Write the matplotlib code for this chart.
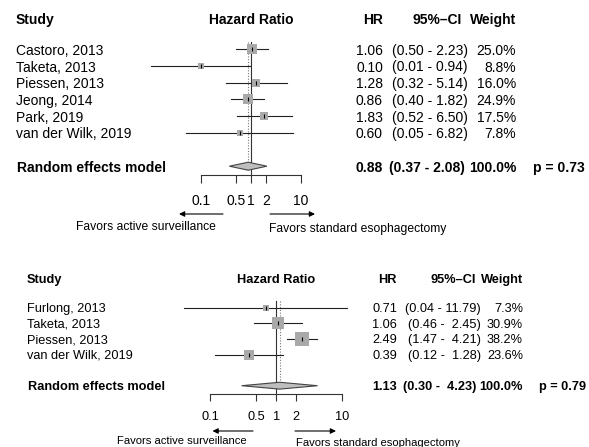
import matplotlib
matplotlib.use("Agg")
import matplotlib.pyplot as plt
import matplotlib.transforms as mtransforms
from matplotlib.patches import Polygon
from matplotlib.ticker import NullLocator

plt.rcParams["font.family"] = ["Liberation Sans", "DejaVu Sans"]

W, H = 589, 447

# meta-analysis 1
studies_1 = ["Castoro, 2013", "Taketa, 2013", "Piessen, 2013", "Jeong, 2014",
             "Park, 2019", "van der Wilk, 2019"]
hr_1 = [1.06, 0.10, 1.28, 0.86, 1.83, 0.60]
lo_1 = [0.50, 0.01, 0.32, 0.40, 0.52, 0.05]
hi_1 = [2.23, 0.94, 5.14, 1.82, 6.50, 6.82]
weight_1 = [25.0, 8.8, 16.0, 24.9, 17.5, 7.8]
pooled_1 = (0.88, 0.37, 2.08)
pval_1 = 0.73

# meta-analysis 2
studies_2 = ["Furlong, 2013", "Taketa, 2013", "Piessen, 2013", "van der Wilk, 2019"]
hr_2 = [0.71, 1.06, 2.49, 0.39]
lo_2 = [0.04, 0.46, 1.47, 0.12]
hi_2 = [11.79, 2.45, 4.21, 1.28]
weight_2 = [7.3, 30.9, 38.2, 23.6]
pooled_2 = (1.13, 0.30, 4.23)
pval_2 = 0.79

ticks = [0.1, 0.5, 1, 2, 10]
tick_labels = ["0.1", "0.5", "1", "2", "10"]
label_left = "Favors active surveillance"
label_right = "Favors standard esophagectomy"

fig = plt.figure(figsize=(W / 100, H / 100), dpi=100)


def fx(px):
    return px / W


def fy(py):
    return 1 - py / H


def forest(studies, hr, lo, hi, weight, pooled, pval, lay):
    n = len(studies)
    row0, dy = lay["row0"], lay["dy"]
    top_row, axis_row = -2.5, n + 1.5
    top_px, bot_px = row0 + top_row * dy, row0 + axis_row * dy
    ax = fig.add_axes([fx(lay["x01"]), fy(bot_px),
                       fx(lay["x10"]) - fx(lay["x01"]), (bot_px - top_px) / H])
    ax.set_xscale("log")
    ax.set_xlim(0.1, 10)
    ax.set_ylim(axis_row, top_row)
    ax.patch.set_visible(False)
    for s in ["top", "left", "right"]:
        ax.spines[s].set_visible(False)
    ax.spines["bottom"].set_linewidth(0.8)
    ax.spines["bottom"].set_color("#333333")
    ax.set_yticks([])
    ax.set_xticks(ticks)
    ax.set_xticklabels(tick_labels)
    ax.xaxis.set_minor_locator(NullLocator())
    ax.tick_params(axis="x", direction="out", length=lay["ticklen"], width=0.8,
                   color="#333333", pad=lay["pad"], labelsize=lay["fs"])

    rows = list(range(n))
    est, plo, phi = pooled
    ax.plot([1, 1], [-0.45, axis_row], color="#333333", lw=0.8, zorder=1, clip_on=False)
    ax.plot([est, est], [-0.45, n + 1 - 0.25], color="#777777", lw=0.8,
            ls=(0, (1, 1.5)), zorder=1, clip_on=False)

    for r, h, l, u, w in zip(rows, hr, lo, hi, weight):
        ax.plot([l, u], [r, r], color="#222222", lw=0.8, zorder=2, clip_on=False)
        ax.scatter([h], [r], marker="s", s=lay["sq"] * w, color="#A9A9A9",
                   linewidths=0, zorder=3, clip_on=False)
        ax.scatter([h], [r], marker="|", s=12, color="black", linewidths=0.8,
                   zorder=4, clip_on=False)

    dr = n + 1
    hh = lay["dh"]
    ax.add_patch(Polygon([(plo, dr), (est, dr - hh), (phi, dr), (est, dr + hh)],
                         closed=True, facecolor="#BEBEBE", edgecolor="#444444",
                         lw=0.8, zorder=3, clip_on=False))

    tr = mtransforms.blended_transform_factory(fig.transFigure, ax.transData)
    fs = lay["fs"]
    va = "center_baseline"
    hdr = -1.85
    fig.text(fx(lay["study_x"]), hdr, "Study", transform=tr, fontsize=fs,
             fontweight="bold", va=va, ha="left")
    fig.text(fx(lay["x1"]), hdr, "Hazard Ratio", transform=tr, fontsize=fs,
             fontweight="bold", va=va, ha="center")
    fig.text(fx(lay["hr_x"]), hdr, "HR", transform=tr, fontsize=fs,
             fontweight="bold", va=va, ha="right")
    fig.text(fx(lay["cih_x"]), hdr, "95%\u2013CI", transform=tr, fontsize=fs,
             fontweight="bold", va=va, ha="right")
    fig.text(fx(lay["w_x"]), hdr, "Weight", transform=tr, fontsize=fs,
             fontweight="bold", va=va, ha="right")

    wid = max(len(f"{u:.2f}") for u in hi)
    for r, name, h, l, u, w in zip(rows, studies, hr, lo, hi, weight):
        fig.text(fx(lay["study_x"]), r, name, transform=tr, fontsize=fs,
                 va=va, ha="left")
        fig.text(fx(lay["hr_x"]), r, f"{h:.2f}", transform=tr, fontsize=fs,
                 va=va, ha="right")
        ci = f"({l:.2f} - {f'{u:.2f}'.rjust(wid)})"
        fig.text(fx(lay["ci_x"]), r, ci, transform=tr, fontsize=fs,
                 va=va, ha="right")
        fig.text(fx(lay["w_x"]), r, f"{w:.1f}%", transform=tr, fontsize=fs,
                 va=va, ha="right")

    # pooled estimate row
    fig.text(fx(lay["study_x"] + 1), dr, "Random effects model", transform=tr,
             fontsize=fs, fontweight="bold", va=va, ha="left")
    fig.text(fx(lay["hr_x"]), dr, f"{est:.2f}", transform=tr, fontsize=fs,
             fontweight="bold", va=va, ha="right")
    ci = f"({plo:.2f} - {f'{phi:.2f}'.rjust(wid)})"
    fig.text(fx(lay["sum_ci_x"]), dr, ci, transform=tr, fontsize=fs,
             fontweight="bold", va=va, ha="right")
    fig.text(fx(lay["w_x"]), dr, "100.0%", transform=tr, fontsize=fs,
             fontweight="bold", va=va, ha="right")
    fig.text(fx(lay["p_x"]), dr, f"p = {pval:.2f}", transform=tr, fontsize=fs,
             fontweight="bold", va=va, ha="left")

    # direction arrows and labels under the axis
    ay = lay["arrow_y"]
    arrow = dict(arrowstyle="-|>", color="black", lw=0.8, mutation_scale=8,
                 shrinkA=0, shrinkB=0)
    for x0, x1 in (lay["al"], lay["ar"]):
        ax.annotate("", xy=(fx(x1), fy(ay)), xytext=(fx(x0), fy(ay)),
                    xycoords="figure fraction", textcoords="figure fraction",
                    arrowprops=arrow)
    fig.text(fx(lay["tl_x"]), fy(lay["tl_y"]), label_left, fontsize=lay["fs_lab"],
             va=va, ha="right")
    fig.text(fx(lay["tr_x"]), fy(lay["tr_y"]), label_right, fontsize=lay["fs_lab"],
             va=va, ha="left")
    return ax


layout_1 = dict(x01=201, x10=301, x1=251, row0=49.3, dy=16.7, fs=10, fs_lab=8.7,
                ticklen=6, pad=8, sq=2.3, dh=0.24,
                study_x=16, hr_x=383, ci_x=468, cih_x=462, sum_ci_x=464.5,
                w_x=516, p_x=533,
                arrow_y=214, al=(223, 179), ar=(270, 315),
                tl_x=216, tl_y=225.5, tr_x=269, tr_y=227.5)
layout_2 = dict(x01=210, x10=342.3, x1=276, row0=307.7, dy=15.6, fs=9.2, fs_lab=8.1,
                ticklen=5, pad=7.5, sq=2.3, dh=0.22,
                study_x=26.7, hr_x=397, ci_x=481, cih_x=476, sum_ci_x=476.5,
                w_x=523, p_x=539,
                arrow_y=431, al=(253, 212.5), ar=(295, 336),
                tl_x=247, tl_y=440, tr_x=296.5, tr_y=442)

forest(studies_1, hr_1, lo_1, hi_1, weight_1, pooled_1, pval_1, layout_1)
forest(studies_2, hr_2, lo_2, hi_2, weight_2, pooled_2, pval_2, layout_2)

fig.savefig("out.png", dpi=100)
